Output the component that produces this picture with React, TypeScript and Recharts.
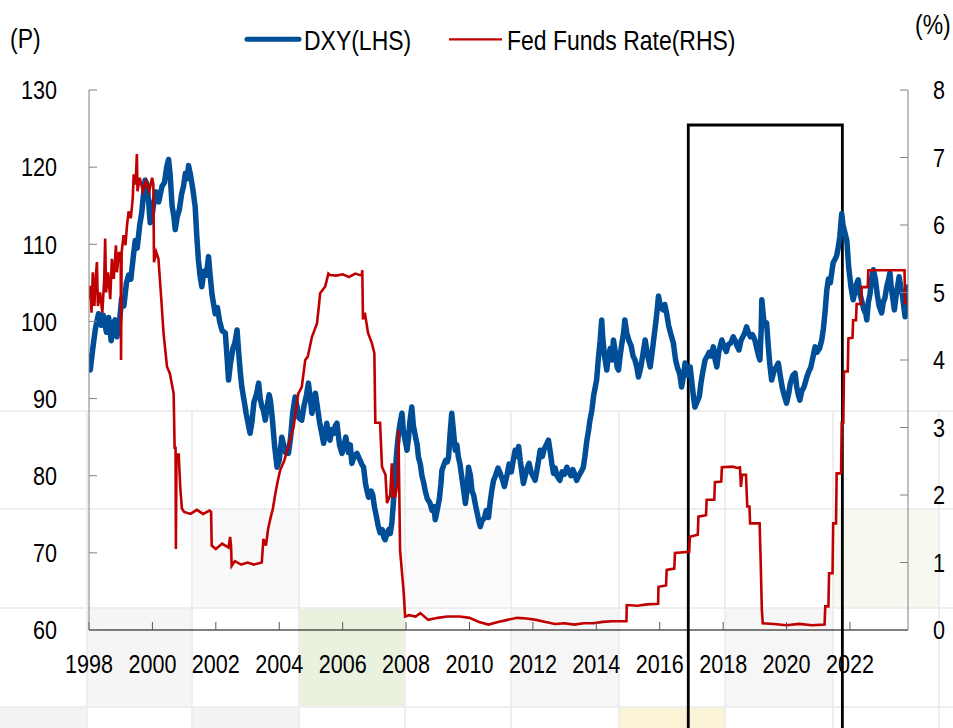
import React from "react";
import { LineChart, Line, XAxis, YAxis, ReferenceArea } from "recharts";

// DXY (fractional year -> index level)
const dxyYears = [
  1998.0, 1998.04, 1998.12, 1998.2, 1998.3, 1998.38, 1998.45, 1998.55, 1998.62, 1998.7, 1998.76, 1998.82, 1998.88, 1998.95,
  1999.03, 1999.1, 1999.18, 1999.25, 1999.32, 1999.4, 1999.46, 1999.52, 1999.6, 1999.66, 1999.72, 1999.77, 1999.83, 1999.88, 1999.93, 1999.98,
  2000.05, 2000.12, 2000.2, 2000.3, 2000.38, 2000.45, 2000.51, 2000.56, 2000.62, 2000.68, 2000.72, 2000.78, 2000.85, 2000.92, 2000.98,
  2001.04, 2001.1, 2001.14, 2001.2, 2001.28, 2001.35, 2001.4, 2001.45, 2001.5, 2001.56, 2001.62, 2001.7, 2001.77, 2001.82, 2001.88, 2001.94, 2001.98,
  2002.05, 2002.12, 2002.2, 2002.3, 2002.36, 2002.4, 2002.46, 2002.54, 2002.6, 2002.67, 2002.72, 2002.77, 2002.82, 2002.88, 2002.96,
  2003.03, 2003.08, 2003.14, 2003.2, 2003.28, 2003.35, 2003.4, 2003.45, 2003.5, 2003.56, 2003.62, 2003.68, 2003.72, 2003.78, 2003.85, 2003.93,
  2004.0, 2004.08, 2004.14, 2004.2, 2004.29, 2004.36, 2004.42, 2004.5, 2004.56, 2004.62, 2004.71, 2004.78, 2004.86, 2004.92, 2004.98,
  2005.03, 2005.08, 2005.14, 2005.2, 2005.27, 2005.34, 2005.4, 2005.46, 2005.5, 2005.56, 2005.6, 2005.66, 2005.72, 2005.77, 2005.82, 2005.9, 2005.98,
  2006.04, 2006.1, 2006.18, 2006.24, 2006.29, 2006.36, 2006.45, 2006.55, 2006.6, 2006.66, 2006.72, 2006.77, 2006.82, 2006.9, 2006.95,
  2007.0, 2007.05, 2007.12, 2007.18, 2007.25, 2007.3, 2007.34, 2007.4, 2007.45, 2007.5, 2007.55, 2007.6, 2007.65, 2007.71, 2007.75, 2007.8, 2007.87, 2007.91, 2007.95,
  2008.0, 2008.03, 2008.08, 2008.12, 2008.18, 2008.23, 2008.3, 2008.35, 2008.39, 2008.45, 2008.5, 2008.56, 2008.6, 2008.67, 2008.75, 2008.82, 2008.88, 2008.92, 2008.98,
  2009.05, 2009.1, 2009.13, 2009.2, 2009.25, 2009.3, 2009.34, 2009.38, 2009.44, 2009.49, 2009.55, 2009.6, 2009.65, 2009.7, 2009.75, 2009.82, 2009.87, 2009.92, 2009.97,
  2010.03, 2010.08, 2010.13, 2010.18, 2010.25, 2010.3, 2010.34, 2010.4, 2010.47, 2010.53, 2010.6, 2010.65, 2010.7, 2010.76, 2010.82, 2010.9, 2010.97,
  2011.04, 2011.1, 2011.18, 2011.25, 2011.32, 2011.38, 2011.44, 2011.5, 2011.55, 2011.6, 2011.65, 2011.7, 2011.76, 2011.82, 2011.88, 2011.94,
  2012.0, 2012.07, 2012.12, 2012.18, 2012.23, 2012.3, 2012.36, 2012.42, 2012.49, 2012.55, 2012.6, 2012.65, 2012.7, 2012.76, 2012.85, 2012.92,
  2013.0, 2013.07, 2013.14, 2013.2, 2013.26, 2013.32, 2013.38, 2013.45, 2013.52, 2013.59, 2013.64, 2013.7, 2013.76, 2013.8, 2013.86, 2013.92,
  2014.01, 2014.06, 2014.12, 2014.17, 2014.2, 2014.26, 2014.33, 2014.38, 2014.44, 2014.5, 2014.54, 2014.6, 2014.66, 2014.7, 2014.75, 2014.8, 2014.86, 2014.9, 2014.96,
  2015.03, 2015.1, 2015.16, 2015.22, 2015.28, 2015.33, 2015.4, 2015.46, 2015.54, 2015.6, 2015.65, 2015.7, 2015.76, 2015.82, 2015.88, 2015.92, 2015.96,
  2016.02, 2016.1, 2016.16, 2016.22, 2016.28, 2016.34, 2016.43, 2016.5, 2016.56, 2016.63, 2016.69, 2016.75, 2016.8, 2016.86, 2016.9, 2016.96,
  2017.03, 2017.07, 2017.11, 2017.17, 2017.25, 2017.3, 2017.36, 2017.43, 2017.5, 2017.56, 2017.62, 2017.69, 2017.75, 2017.8, 2017.86, 2017.92, 2017.96,
  2018.02, 2018.1, 2018.16, 2018.24, 2018.32, 2018.38, 2018.44, 2018.5, 2018.56, 2018.62, 2018.68, 2018.74, 2018.8, 2018.86, 2018.92,
  2019.0, 2019.06, 2019.12, 2019.16, 2019.2, 2019.22, 2019.26, 2019.3, 2019.37, 2019.42, 2019.47, 2019.53, 2019.6, 2019.66, 2019.74, 2019.8, 2019.86, 2019.92,
  2020.0, 2020.06, 2020.12, 2020.2, 2020.27, 2020.32, 2020.37, 2020.42, 2020.48, 2020.55, 2020.64, 2020.7, 2020.76, 2020.84, 2020.9, 2020.96,
  2021.04, 2021.11, 2021.16, 2021.22, 2021.27, 2021.32, 2021.38, 2021.43, 2021.47, 2021.52, 2021.58, 2021.63, 2021.68, 2021.72, 2021.74, 2021.78, 2021.84, 2021.9, 2021.96,
  2022.03, 2022.1, 2022.14, 2022.2, 2022.26, 2022.32, 2022.38, 2022.44, 2022.5, 2022.53, 2022.58, 2022.63, 2022.68, 2022.74, 2022.8, 2022.86, 2022.92,
  2023.0, 2023.05, 2023.1, 2023.16, 2023.22, 2023.26, 2023.3, 2023.35, 2023.4, 2023.46, 2023.5, 2023.55, 2023.6, 2023.65, 2023.7, 2023.74, 2023.78, 2023.83,
];
const dxyValues = [
  95.5, 93.7, 96.5, 99, 101, 99.5, 100.8, 98.6, 100.5, 97.5, 99.5, 100.2, 98, 99.5,
  103, 102, 105, 106, 105.5, 108.5, 110.5, 109.5, 112.5, 114, 116.5, 118.3, 117.8, 115.5, 112.8, 113.5,
  115.5, 116.8, 115.5, 117.5, 118, 120, 121, 119, 115, 113.5, 111.9, 113.5, 114.5, 116.5, 117.5,
  119.2, 118.5, 120.2, 119, 117, 114.8, 111, 108, 106, 104.5, 106.5, 106, 108.4, 106, 103.5, 102, 101,
  101.8, 100, 98.8, 98.5, 95, 92.4, 94.5, 96.5, 97.2, 98.9, 96, 93.5, 91.5, 90, 88,
  86.5, 85.5, 87, 89.5, 90.5, 92, 90, 89, 88.5, 87.2, 89, 90.5, 89.8, 87.5, 84, 81.1,
  82, 85, 84, 83, 82.9, 85, 88, 90.2, 89, 87.5, 87.2, 89, 90.5, 92, 90,
  88.1, 89.5, 90.7, 89, 87, 85.5, 84.2, 85.8, 86.8, 85, 84.6, 86, 85.5, 86.5, 86.8, 84, 82.9,
  84, 85, 83, 84, 81.6, 82.5, 82.9, 82, 81.5, 81.1, 79, 78, 77.2, 78, 77.5,
  76, 75, 73.5, 72.6, 73, 72, 71.7, 72.5, 73, 72.5, 73.8, 76.5, 80, 83.3, 85, 86.5, 88.1, 86, 85,
  84, 83.3, 85, 87, 88.9, 86.5, 85, 84, 82.4, 81.5, 80, 79, 78.1, 77, 76.5, 75.5, 76, 74.3, 75.5,
  77, 79, 80.7, 81.5, 82, 81.8, 82.4, 85, 88.1, 86, 83.3, 84, 82.4, 81.5, 80, 78, 76.4, 78, 81.1,
  80, 78, 77.5, 76.4, 75, 74, 73.4, 74.2, 74.5, 75.5, 74.6, 76.5, 78, 79.4, 80, 81, 80.3,
  79.5, 78.6, 80, 81.5, 80.5, 82, 83.3, 82.5, 83.8, 82, 80.5, 79, 80, 81, 81.6, 80.5,
  80, 79.4, 80.5, 82, 83.3, 82.5, 83.5, 84, 84.6, 83, 81.5, 80.3, 81, 80, 79.4, 80.5,
  80.2, 81.1, 80.5, 80, 80.8, 80.2, 79.4, 80, 80.5, 81.1, 82.5, 84.5, 86, 87.2, 88.5, 90.5,
  92.4, 95, 97.5, 100.2, 98, 95.5, 93.7, 95.5, 96.5, 95, 97.6, 96, 94, 93.7, 95.5, 97, 98.5, 100.2, 98.5,
  97.5, 96.8, 95.5, 95, 94, 92.8, 94, 95.5, 97.6, 96, 95, 94.1, 96, 98, 100, 101.5, 103.3,
  102, 101.5, 102.2, 101, 99.5, 98.5, 97.2, 95, 94, 93.2, 91.5, 93, 94.6, 93.5, 93, 94.1,
  91.5, 90, 88.9, 89.5, 90.3, 92, 93.5, 95, 95.5, 96, 95.5, 96.7, 95, 94.1, 96, 97, 97.6,
  96.8, 96.1, 97, 97.2, 98, 97.5, 96.8, 96.3, 97.5, 98, 98.5, 99.3, 98.5, 98, 98.3,
  97.6, 96.5, 95.5, 95, 99, 102.8, 101, 99.5, 99.8, 97, 94.5, 92.4, 93.5, 94, 94.6, 93, 91.5, 90.5,
  89.4, 90.5, 92, 93, 93.3, 91.5, 90.5, 89.8, 91, 91.5, 92.8, 93.5, 94, 95.5, 96.7, 96,
  96.5, 97.6, 99, 101.5, 104.1, 105.5, 105, 106.5, 107.6, 108, 108.5, 109.6, 111, 113, 114, 112.5, 111.5, 110.5, 107,
  104.5, 102.8, 103.5, 104.8, 105.4, 103.5, 102.5, 101.5, 101, 100.2, 102.5, 103.5, 105.5, 106.7, 105.5, 103.5, 102,
  101.1, 102.5, 103, 104.5, 105.5, 106.3, 104.5, 103, 101.5, 103.5, 104.5, 105.8, 104.5, 103.5, 101.8, 100.6, 102, 104.5,
];

// Fed Funds Rate (%)
const fedYears = [
  1998.0, 1998.04, 1998.08, 1998.12, 1998.17, 1998.21, 1998.25, 1998.28, 1998.35, 1998.42, 1998.48, 1998.51, 1998.54, 1998.6,
  1998.67, 1998.72, 1998.78, 1998.85, 1998.88, 1998.95, 1999.0, 1999.01, 1999.03, 1999.09, 1999.15, 1999.2, 1999.25, 1999.32,
  1999.38, 1999.41, 1999.47, 1999.51, 1999.53, 1999.6, 1999.7, 1999.8, 1999.9, 1999.99,
  2000.03, 2000.05, 2000.12, 2000.19, 2000.28, 2000.35, 2000.46, 2000.55, 2000.67, 2000.7, 2000.73, 2000.74, 2000.76, 2000.83, 2000.88, 2000.93,
  2001.0, 2001.2, 2001.4, 2001.6, 2001.8, 2001.85, 2001.87, 2002.0, 2002.2, 2002.4, 2002.45, 2002.48, 2002.5, 2002.6, 2002.8,
  2003.0, 2003.2, 2003.45, 2003.5, 2003.58, 2003.65, 2003.72, 2003.8, 2003.88, 2003.95, 2004.03, 2004.15, 2004.29, 2004.45,
  2004.6, 2004.71, 2004.82, 2004.9, 2005.03, 2005.19, 2005.25, 2005.29, 2005.45, 2005.55, 2005.6, 2005.8,
  2006.0, 2006.2, 2006.4, 2006.6, 2006.62, 2006.64, 2006.7, 2006.8, 2006.92, 2007.0, 2007.03, 2007.18, 2007.24, 2007.35,
  2007.4, 2007.5, 2007.55, 2007.6, 2007.66, 2007.74, 2007.76, 2007.79, 2007.81, 2007.88, 2007.92, 2007.97,
  2008.1, 2008.3, 2008.45, 2008.7, 2009.0, 2009.3, 2009.7, 2010.0, 2010.3, 2010.6, 2010.9, 2011.2, 2011.5, 2011.8,
  2012.1, 2012.4, 2012.7, 2013.0, 2013.3, 2013.6, 2013.9, 2014.2, 2014.5, 2014.8, 2014.95,
  2014.96, 2015.3, 2015.6, 2015.95, 2015.96, 2016.2, 2016.22, 2016.46, 2016.48, 2016.93, 2016.95, 2017.2, 2017.22, 2017.46,
  2017.48, 2017.72, 2017.74, 2017.94, 2017.96, 2018.3, 2018.45, 2018.53, 2018.56, 2018.6, 2018.72, 2018.76, 2018.83, 2018.85,
  2019.15, 2019.18, 2019.22, 2019.25, 2019.6, 2020.0, 2020.4, 2020.8, 2021.2,
  2021.22, 2021.32, 2021.34, 2021.45, 2021.47, 2021.56, 2021.58, 2021.72, 2021.74, 2021.79, 2021.81, 2021.93, 2021.95,
  2022.08, 2022.1, 2022.19, 2022.21, 2022.35, 2022.37, 2022.56, 2022.58, 2023.72, 2023.74, 2023.83,
];
const fedValues = [
  4.9, 5.1, 4.7, 5.3, 4.8, 5.2, 5.45, 4.8, 5.0, 4.7, 5.2, 5.8, 5.0, 5.3,
  4.9, 5.5, 5.2, 5.7, 5.3, 5.6, 5.5, 4.0, 5.6, 5.85, 5.7, 6.0, 6.2, 6.1,
  6.4, 6.75, 6.6, 7.05, 6.5, 6.7, 6.5, 6.65, 6.5, 6.7,
  6.6, 5.45, 5.6, 5.5, 4.9, 4.4, 3.9, 3.8, 3.5, 2.7, 2.7, 1.2, 2.6, 2.6, 2.1, 1.8,
  1.75, 1.72, 1.78, 1.72, 1.77, 1.75, 1.25, 1.2, 1.28, 1.22, 1.38, 1.25, 0.95, 1.02, 0.97,
  1.0, 0.97, 1.0, 1.35, 1.25, 1.5, 1.65, 1.8, 2.03, 2.2, 2.37, 2.5, 2.72, 3.0,
  3.5, 3.6, 4.0, 4.05, 4.34, 4.54, 4.8, 4.99, 5.09, 5.28, 5.26, 5.25,
  5.27, 5.23, 5.28, 5.25, 5.33, 4.6, 4.7, 4.4, 4.25, 4.1, 3.07, 3.07, 2.42, 2.3,
  1.88, 2.0, 2.47, 1.98, 1.98, 2.2, 2.96, 1.9, 1.19, 0.8, 0.59, 0.2,
  0.22, 0.2, 0.25, 0.15, 0.18, 0.2, 0.2, 0.18, 0.12, 0.08, 0.12, 0.15, 0.18, 0.17,
  0.15, 0.12, 0.09, 0.1, 0.08, 0.1, 0.1, 0.12, 0.13, 0.13, 0.13,
  0.37, 0.36, 0.38, 0.39, 0.64, 0.66, 0.89, 0.91, 1.14, 1.16, 1.38, 1.41, 1.68, 1.7,
  1.93, 1.93, 2.19, 2.2, 2.41, 2.42, 2.4, 2.41, 2.12, 2.3, 2.3, 1.83, 1.83, 1.58,
  1.58, 1.09, 0.3, 0.1, 0.09, 0.07, 0.09, 0.07, 0.08,
  0.35, 0.35, 0.84, 0.84, 1.58, 1.58, 2.32, 2.32, 3.07, 3.07, 3.83, 3.83, 4.32,
  4.33, 4.59, 4.59, 4.83, 4.83, 5.08, 5.08, 5.33, 5.33, 4.84, 4.84,
];

const yearTicks = [1998, 2000, 2002, 2004, 2006, 2008, 2010, 2012, 2014, 2016, 2018, 2020, 2022];
const leftTicks = [60, 70, 80, 90, 100, 110, 120, 130];
const rightTicks = [0, 1, 2, 3, 4, 5, 6, 7, 8];
const boxYears = [2016.9, 2021.76];
const boxRange = [47, 125.46];

const dxyData = dxyYears.map((t, i) => ({ t, v: dxyValues[i] }));
const fedData = fedYears.map((t, i) => ({ t, v: fedValues[i] }));

// the reference uses a narrow Arial; squeeze Liberation Sans to match
const FONT = "'Liberation Sans', Arial, sans-serif";
const SQUEEZE = 0.83;
const BLUE = "#004e98";
const RED = "#c00000";

// faint spreadsheet cells showing through behind the chart
const bgCells = [
  { l: 86, t: 607, w: 105, h: 99, c: "#f5f5f5" },
  { l: 191, t: 508, w: 107, h: 99, c: "#f9f9f9" },
  { l: 298, t: 607, w: 106, h: 99, c: "#e9f2de" },
  { l: 404, t: 508, w: 106, h: 99, c: "#fbfbfb" },
  { l: 510, t: 607, w: 108, h: 99, c: "#f6f6f6" },
  { l: 724, t: 607, w: 108, h: 99, c: "#f6f6f6" },
  { l: 832, t: 508, w: 106, h: 99, c: "#f6f9f0" },
  { l: 618, t: 706, w: 106, h: 22, c: "#faf3d6" },
  { l: 0, t: 706, w: 86, h: 22, c: "#f3f3f3" },
  { l: 191, t: 706, w: 107, h: 22, c: "#f3f3f3" },
];
const gridRows = [410, 508, 607, 706];
const gridCols = [86, 191, 298, 404, 510, 618, 724, 832, 938];

const makeTick = (anchor: string, dy: string) => (props: any) => {
  const { x, y, payload } = props;
  return (
    <text
      transform={`translate(${x},${y}) scale(${SQUEEZE},1)`}
      textAnchor={anchor}
      dy={dy}
      fontSize={26}
      fontFamily={FONT}
      fill="#000"
    >
      {payload.value}
    </text>
  );
};

const label = (left: number, top: number, text: string) => (
  <div
    style={{
      position: "absolute",
      left,
      top,
      fontFamily: FONT,
      fontSize: 27.5,
      lineHeight: "27.5px",
      color: "#000",
      whiteSpace: "nowrap",
      transform: "scaleX(0.835)",
      transformOrigin: "0 0",
    }}
  >
    {text}
  </div>
);

export default function App() {
  return (
    <div style={{ position: "absolute", left: 0, top: 0, width: 953, height: 728, overflow: "hidden", background: "#fff" }}>
      {bgCells.map((b, i) => (
        <div key={i} style={{ position: "absolute", left: b.l, top: b.t, width: b.w, height: b.h, background: b.c }} />
      ))}
      {gridRows.map((y) => (
        <div key={"r" + y} style={{ position: "absolute", left: 0, top: y, width: 953, height: 2, background: "#eeeeee" }} />
      ))}
      {gridCols.map((x) => (
        <div key={"c" + x} style={{ position: "absolute", left: x, top: 410, width: 2, height: 318, background: "#eeeeee" }} />
      ))}

      <div style={{ position: "absolute", left: 0, top: 0 }}>
        <LineChart width={953} height={728} margin={{ top: 90, right: 0, bottom: 38, left: 29 }}>
          <XAxis
            type="number"
            dataKey="t"
            domain={[1998, 2023.83]}
            ticks={yearTicks}
            interval={0}
            allowDataOverflow
            height={60}
            stroke="#000"
            tickSize={-8}
            tickMargin={33}
            tickLine={{ stroke: "#595959" }}
            tick={makeTick("middle", "0.71em")}
          />
          <YAxis
            yAxisId="l"
            domain={[60, 130]}
            ticks={leftTicks}
            interval={0}
            width={60}
            stroke="#808080"
            tickSize={-8}
            tickMargin={40}
            tick={makeTick("end", "0.355em")}
          />
          <YAxis
            yAxisId="r"
            orientation="right"
            domain={[0, 8]}
            ticks={rightTicks}
            interval={0}
            width={45}
            stroke="#808080"
            tickSize={-8}
            tickMargin={33}
            tick={makeTick("start", "0.355em")}
          />
          <Line
            yAxisId="l"
            data={dxyData}
            dataKey="v"
            type="linear"
            stroke={BLUE}
            strokeWidth={5.5}
            strokeLinejoin="round"
            strokeLinecap="round"
            dot={false}
            isAnimationActive={false}
          />
          <Line
            yAxisId="r"
            data={fedData}
            dataKey="v"
            type="linear"
            stroke={RED}
            strokeWidth={2.6}
            dot={false}
            isAnimationActive={false}
          />
          <ReferenceArea
            yAxisId="l"
            x1={boxYears[0]}
            x2={boxYears[1]}
            y1={boxRange[0]}
            y2={boxRange[1]}
            fill="none"
            fillOpacity={0}
            stroke="#000"
            strokeWidth={2.8}
            ifOverflow="visible"
          />
        </LineChart>
      </div>

      {label(10, 24.5, "(P)")}
      {label(915, 10.5, "(%)")}
      <svg style={{ position: "absolute", left: 0, top: 0 }} width={953} height={60}>
        <line x1={247} y1={39.3} x2={299} y2={39.3} stroke={BLUE} strokeWidth={5} strokeLinecap="round" />
        <line x1={449} y1={39.3} x2={502} y2={39.3} stroke={RED} strokeWidth={2.2} />
      </svg>
      {label(303.5, 26.7, "DXY(LHS)")}
      {label(507, 26.7, "Fed Funds Rate(RHS)")}
    </div>
  );
}
